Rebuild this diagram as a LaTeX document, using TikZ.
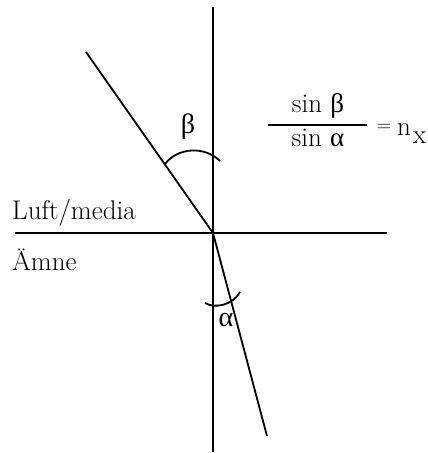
\documentclass[tikz,border=0pt]{standalone}
\usepackage{fontspec}
\newfontfamily\grk{Liberation Serif}
\begin{document}
\begin{tikzpicture}[x=1pt,y=-1pt,
  ln/.style={line width=1.8pt},
  lbl/.style={font=\fontsize{27}{30}\selectfont, inner sep=0pt},
  glbl/.style={font=\fontsize{28}{30}\selectfont\grk, inner sep=0pt}]
\useasboundingbox (0,0) rectangle (428,453);
\coordinate (O) at (213,233);
\coordinate (vtop) at (213,7);
\coordinate (vbot) at (213,452);
\coordinate (hl) at (15,233);
\coordinate (hr) at (387,233);
\coordinate (inc) at (86,52);
\coordinate (ref) at (267,436);
\draw[ln] (vtop) -- (vbot);
\draw[ln] (hl) -- (hr);
\draw[ln] (inc) -- (O) -- (ref);
% angle arcs
\draw[ln] (165,164) .. controls (178,147) and (205,146) .. (220,161);
\draw[ln] (205,303) .. controls (215,309) and (233,305) .. (240,292);
% labels
\node[glbl] (beta) at (188,127) {β};
\node[glbl] (alpha) at (226,320) {α};
\node[lbl, anchor=base west] (luft) at (12,219) {Luft/media};
\node[lbl, anchor=base west] (amne) at (12,270) {Ämne};
% formula
\coordinate (fl) at (268,125);
\coordinate (fr) at (367,125);
\draw[ln] (fl) -- (fr);
\node[lbl, anchor=base] (num) at (318,112) {sin {\grk β}};
\node[lbl, anchor=base] (den) at (318,146) {sin {\grk α}};
\node[font=\fontsize{20}{22}\selectfont, inner sep=0pt] (eq) at (384,128) {=};
\node[lbl, anchor=base west] (n) at (397,135) {n};
\node[lbl, anchor=base west] (x) at (413,143) {x};
\end{tikzpicture}
\end{document}
